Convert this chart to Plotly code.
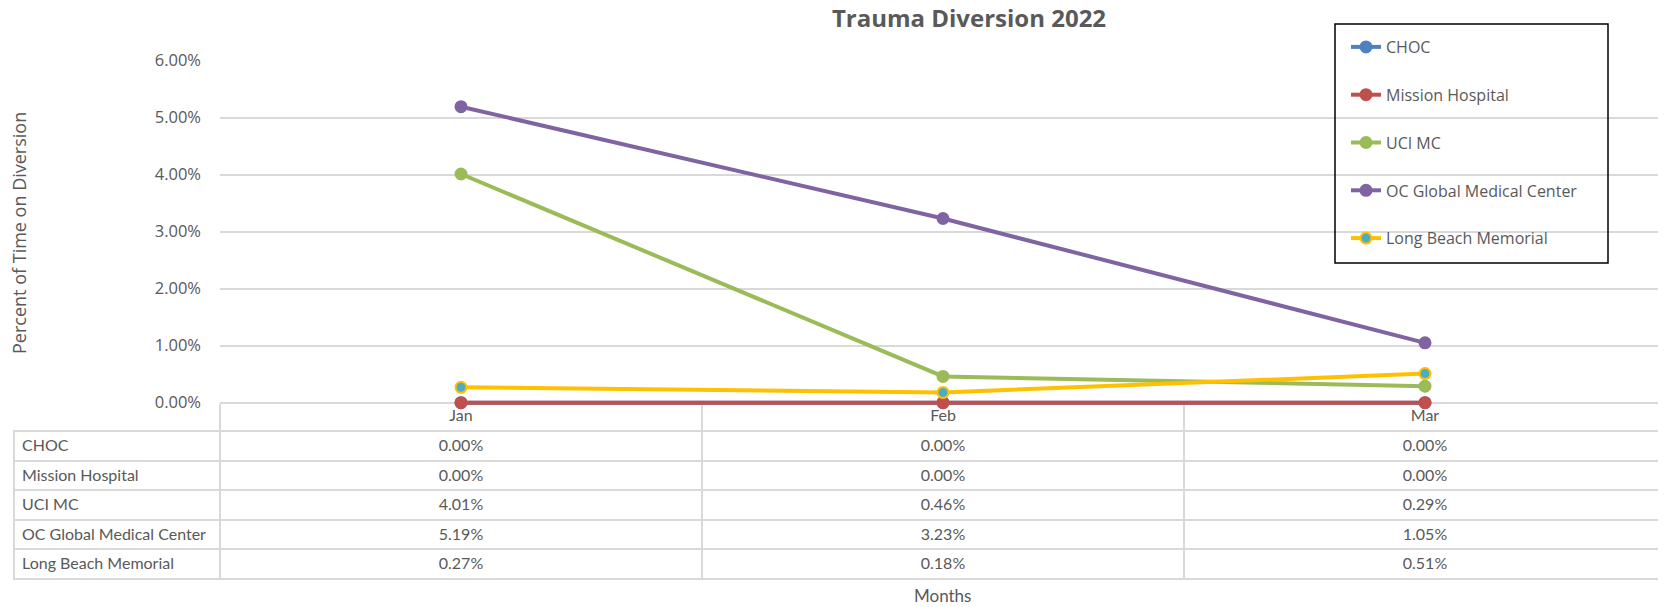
import plotly.graph_objects as go

# data
months = ["Jan", "Feb", "Mar"]
hospitals = ["CHOC", "Mission Hospital", "UCI MC", "OC Global Medical Center", "Long Beach Memorial"]
choc = [0.0, 0.0, 0.0]
mission = [0.0, 0.0, 0.0]
uci_mc = [0.0401, 0.0046, 0.0029]
oc_global = [0.0519, 0.0323, 0.0105]
long_beach = [0.0027, 0.0018, 0.0051]
y_ticks = [0, 0.01, 0.02, 0.03, 0.04, 0.05, 0.06]

series = [choc, mission, uci_mc, oc_global, long_beach]
line_colors = ["#4F81BD", "#C0504D", "#9BBB59", "#8064A2", "#FFC000"]
marker_fill = ["#4F81BD", "#C0504D", "#9BBB59", "#8064A2", "#4BACC6"]

# page body has an 8px margin, so the figure is laid out 8px up/left
OFF = 8
W, H = 1666 - OFF, 607 - OFF
GREY = "#595959"
GRID = "#d9d9d9"


def px(x):
    return (x - OFF) / W


def py(y):
    return 1 - (y - OFF) / H


# plot area: 0% sits at y=402.7, 6% at y=60.5; a few px of room below 0
# so the zero line is not cut in half
Y_TOP, Y_ZERO, Y_BOT = 60.5, 402.7, 407.0
y_lo = -0.06 * (Y_BOT - Y_ZERO) / (Y_ZERO - Y_TOP)

fig = go.Figure()

for i, (name, vals) in enumerate(zip(hospitals, series)):
    fig.add_trace(go.Scatter(
        x=months, y=vals, name=name, mode="lines+markers",
        legendgroup=name, cliponaxis=False,
        line=dict(color=line_colors[i], width=4),
        marker=dict(size=11, color=marker_fill[i],
                    line=dict(color=line_colors[i], width=2)),
    ))

# data table under the chart (month names come from the x axis labels);
# plotly tables always have a header, so the first hospital row goes there
month_cols = [[s[j] for s in series] for j in range(len(months))]
table_cols = [hospitals] + month_cols
cell_font = dict(family="Lato", size=16, color=GREY)
cell_align = ["left", "center", "center", "center"]
cell_fmt = ["", ".2%", ".2%", ".2%"]
fig.add_trace(go.Table(
    domain=dict(x=[px(14), 1], y=[py(582), py(431)]),
    columnwidth=[206, 482, 482, 482],
    header=dict(values=[[c[0]] for c in table_cols], height=29.5,
                format=cell_fmt, fill_color="white",
                line=dict(color=GRID, width=2), align=cell_align, font=cell_font),
    cells=dict(values=[c[1:] for c in table_cols], height=29.5,
               format=cell_fmt, fill_color="white",
               line=dict(color=GRID, width=2), align=cell_align, font=cell_font),
))

fig.update_layout(
    width=W, height=H,
    margin=dict(l=0, r=0, t=0, b=0, pad=0),
    paper_bgcolor="white", plot_bgcolor="white",
    title=dict(text="<b>Trauma Diversion 2022</b>", x=px(969), y=py(19),
               xanchor="center", yanchor="middle", automargin=False,
               font=dict(family="Open Sans", size=24, color=GREY)),
    xaxis=dict(domain=[px(220), 1], type="category", range=[-0.5, 2.5],
               anchor="free", position=py(Y_ZERO), layer="below traces",
               showgrid=False, automargin=False, zeroline=False,
               showline=True, linecolor=GRID, linewidth=2,
               ticks="outside", tickson="boundaries", ticklen=28,
               tickwidth=2, tickcolor=GRID, ticklabelstandoff=-2,
               tickfont=dict(family="Lato", size=16, color=GREY)),
    yaxis=dict(domain=[py(Y_BOT), py(Y_TOP)], range=[y_lo, 0.06], automargin=False,
               tickvals=y_ticks, tickformat=".2%",
               gridcolor=GRID, gridwidth=1.5, zeroline=False, showline=False,
               ticks="", ticklabelstandoff=18,
               tickfont=dict(family="Open Sans", size=16.5, color=GREY)),
    showlegend=True,
    legend=dict(x=px(1346), y=py(30), xanchor="left", yanchor="top",
                bgcolor="rgba(0,0,0,0)", tracegroupgap=24,
                font=dict(family="Open Sans", size=16, color=GREY)),
    shapes=[dict(type="rect", xref="paper", yref="paper",
                 x0=px(1335), x1=px(1608), y0=py(263), y1=py(24),
                 line=dict(color="black", width=1.5), fillcolor="rgba(0,0,0,0)")],
    annotations=[
        dict(text="Percent of Time on Diversion", x=px(19), y=py(233),
             xref="paper", yref="paper", textangle=-90, showarrow=False,
             xanchor="center", yanchor="middle",
             font=dict(family="Open Sans", size=18, color=GREY)),
        dict(text="Months", x=px(942), y=py(595), xref="paper", yref="paper",
             showarrow=False, xanchor="center", yanchor="middle",
             font=dict(family="Lato", size=17, color=GREY)),
    ],
)

fig.write_html("out.html")
